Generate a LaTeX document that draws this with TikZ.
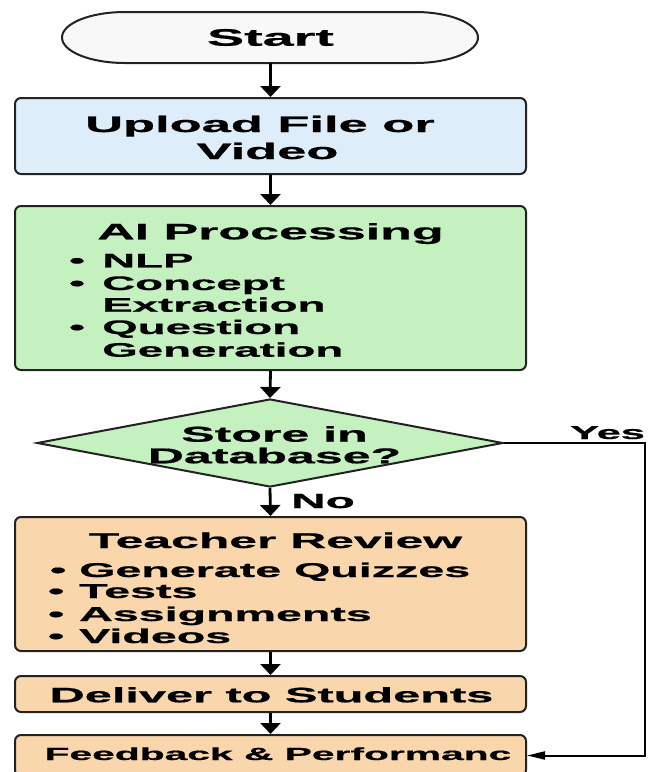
\documentclass[tikz,border=0pt]{standalone}
\usepackage{fontspec}
\setmainfont{Liberation Sans}[BoldFeatures={FakeBold=0.6}]
\usepackage{graphicx}
\usetikzlibrary{arrows.meta,shapes.geometric}
\definecolor{startfill}{RGB}{248,248,248}
\definecolor{boxblue}{RGB}{221,238,250}
\definecolor{boxgreen}{RGB}{197,240,191}
\definecolor{boxpeach}{RGB}{250,214,172}
\definecolor{edge}{RGB}{34,34,34}
\newcommand\wt[2]{\scalebox{2.33}[1]{\fontsize{#1}{#1}\selectfont\bfseries #2}}
\begin{document}
\begin{tikzpicture}[x=1pt,y=-1pt,
  box/.style={draw=edge, line width=2pt, rounded corners=6pt, inner sep=0pt, minimum width=511pt},
  txt/.style={inner sep=0pt, anchor=base},
  ltxt/.style={inner sep=0pt, anchor=base west},
  varrow/.style={draw=black, line width=2.8pt, -{Triangle[width=20pt,length=11pt]}},
  harrow/.style={draw=black, line width=2pt, -{Triangle[width=8pt,length=18pt]}},
]
\useasboundingbox (0,0) rectangle (649,772);
% start terminal
\draw[line width=2pt, draw=edge, fill=startfill]
  (125,12) -- (415,12) arc[start angle=-90, end angle=90, x radius=63, y radius=25.5]
  -- (125,63) arc[start angle=90, end angle=270, x radius=63, y radius=25.5] -- cycle;
\node[inner sep=0pt, minimum width=416pt, minimum height=51pt] (start) at (270.5,37.5) {\wt{23.9}{Start}};
% boxes
\node[box, fill=boxblue, minimum height=76pt] (upload) at (270.5,136) {};
\node[box, fill=boxgreen, minimum height=164pt] (ai) at (270.5,288) {};
\node[draw=edge, line width=2pt, fill=boxgreen, shape=diamond, inner sep=0pt,
      minimum width=466pt, minimum height=88pt] (dec) at (270,443) {};
\node[box, fill=boxpeach, minimum height=134pt] (teacher) at (270.5,584) {};
\node[box, fill=boxpeach, minimum height=36pt] (deliver) at (270.5,694) {};
\node[box, fill=boxpeach, minimum height=41pt] (feedback) at (270.5,755.5) {};
% texts
\node[txt] at (260,132) {\wt{22.5}{Upload File or}};
\node[txt] at (267.5,159) {\wt{22.5}{Video}};
\node[txt] at (270.5,239.3) {\wt{22.3}{AI Processing}};
\node[txt] at (77,267.3) {\wt{19.6}{•}};
\node[ltxt] at (102,267.3) {\wt{19.6}{NLP}};
\node[txt] at (77,290) {\wt{19.6}{•}};
\node[ltxt] at (102,290) {\wt{19.6}{Concept}};
\node[ltxt] at (102,311.7) {\wt{19.6}{Extraction}};
\node[txt] at (77,334) {\wt{19.6}{•}};
\node[ltxt] at (102,334) {\wt{19.6}{Question}};
\node[ltxt] at (102,356.7) {\wt{19.6}{Generation}};
\node[txt] at (274.5,441.7) {\wt{21.5}{Store in}};
\node[txt] at (274.5,463.3) {\wt{21.5}{Database?}};
\node[ltxt] (yes) at (570,439) {\wt{18.6}{Yes}};
\node[ltxt] (no) at (291,508) {\wt{20.5}{No}};
\node[txt] at (275.5,548) {\wt{21.4}{Teacher Review}};
\node[txt] at (58,577) {\wt{20}{•}};
\node[ltxt] at (79,577) {\wt{20}{Generate Quizzes}};
\node[txt] at (56,598) {\wt{20}{•}};
\node[ltxt] at (79,598) {\wt{20}{Tests}};
\node[txt] at (56,621) {\wt{20}{•}};
\node[ltxt] at (79,621) {\wt{20}{Assignments}};
\node[txt] at (56,643) {\wt{20}{•}};
\node[ltxt] at (79,643) {\wt{20}{Videos}};
\node[txt] at (271.5,702.3) {\wt{20.9}{Deliver to Students}};
\node[txt] at (278,760) {\wt{17.5}{Feedback \& Performanc}};
% connectors
\draw[varrow] (start.south) -- (upload.north);
\draw[varrow] (upload.south) -- (ai.north);
\draw[varrow] (ai.south) -- (dec.north);
\draw[varrow] (dec.south) -- (teacher.north);
\draw[varrow] (teacher.south) -- (deliver.north);
\draw[varrow] (deliver.south) -- (feedback.north);
\coordinate (yc) at (645,443);
\draw[harrow] (dec.east) -- (yc) |- (feedback.east);
\end{tikzpicture}
\end{document}
